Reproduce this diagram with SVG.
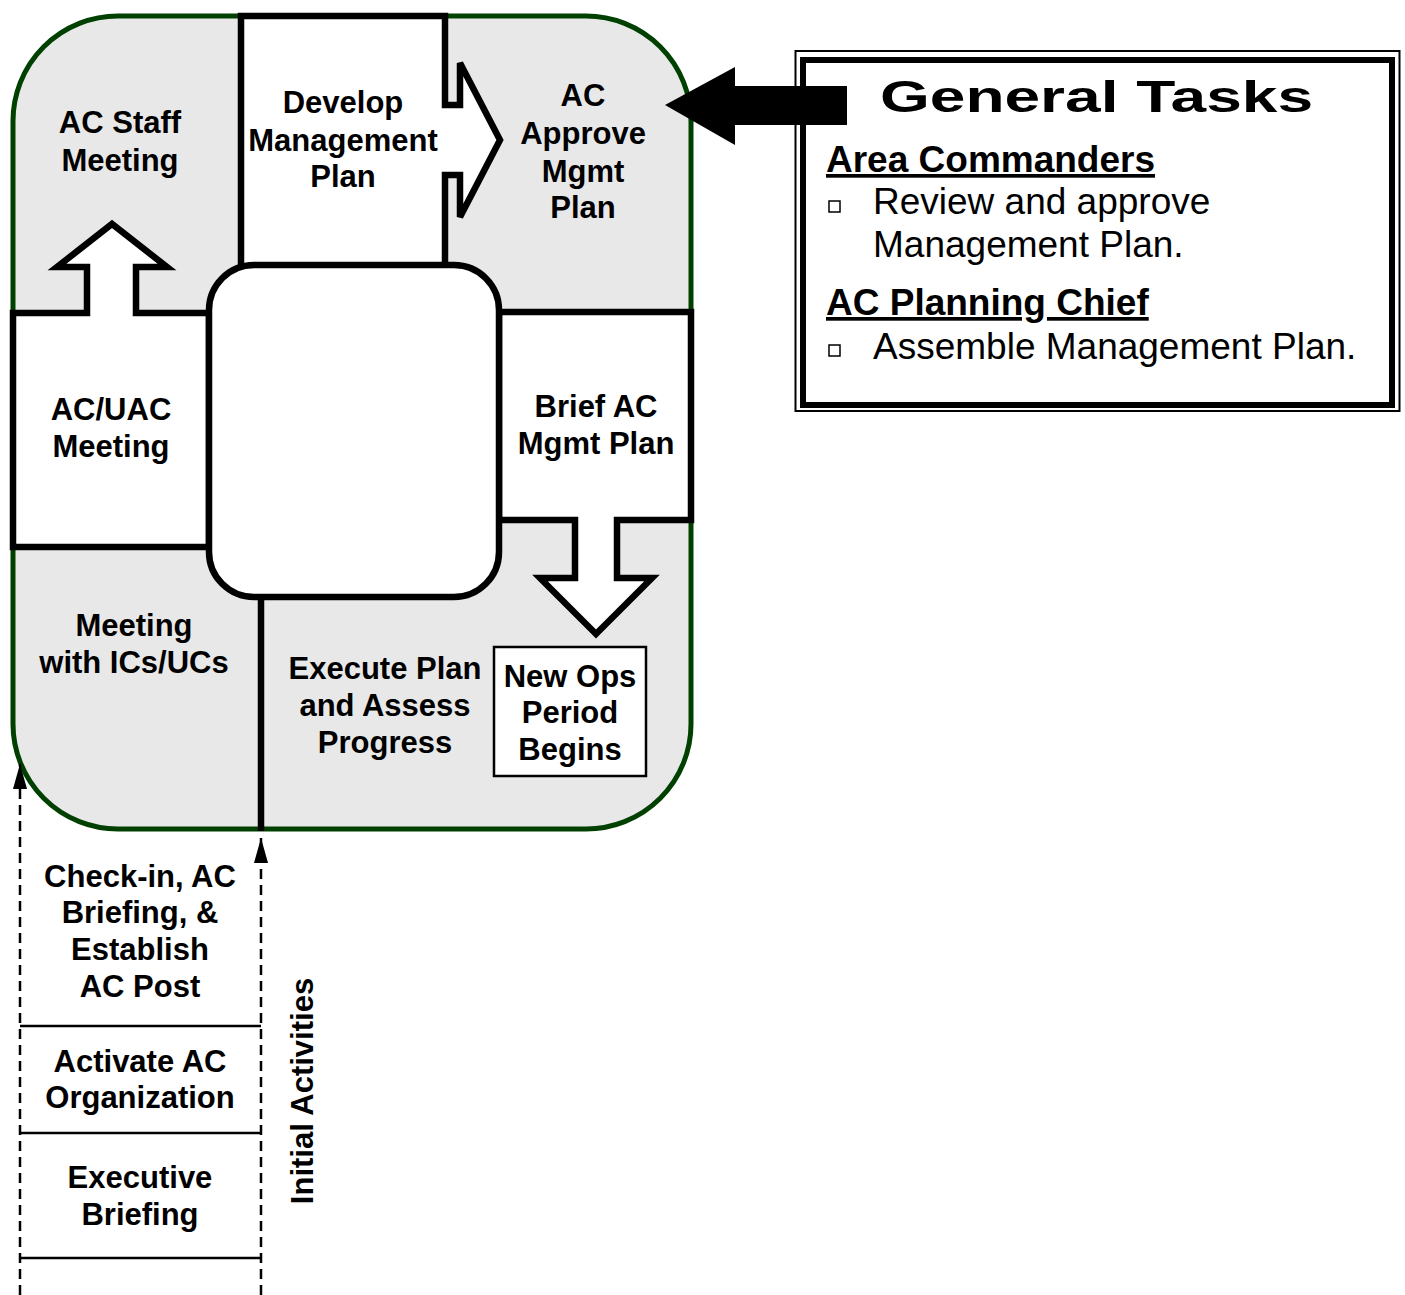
<svg xmlns="http://www.w3.org/2000/svg" width="1405" height="1295" viewBox="0 0 1405 1295">
<style>
.lbl{font-family:"Liberation Sans",Arial,sans-serif;font-weight:bold;font-size:31px;fill:#000;text-anchor:middle}
.box{fill:#fff;stroke:#000;stroke-width:6.5;stroke-linejoin:miter}
.hd{font-family:"Liberation Sans",Arial,sans-serif;font-weight:bold;font-size:37px;fill:#000;text-decoration:underline}
.it{font-family:"Liberation Sans",Arial,sans-serif;font-size:37px;fill:#000}
.dash{fill:none;stroke:#000;stroke-width:2.5;stroke-dasharray:10 6}
.sep{stroke:#000;stroke-width:2.5}
</style>
<defs>
<marker id="ah" markerUnits="userSpaceOnUse" markerWidth="25" markerHeight="14" refX="25" refY="7" orient="auto" viewBox="0 0 25 14">
<path d="M0,0 L25,7 L0,14 Z" fill="#000"/>
</marker>
</defs>
<rect width="1405" height="1295" fill="#fff"/>

<g id="cycle-frame">
<rect x="13" y="16" width="678" height="813" rx="105" ry="105" fill="#e8e8e8" stroke="#004000" stroke-width="5"/>
</g>

<g id="ac-staff-meeting">
<text class="lbl" x="120" y="133">AC Staff</text>
<text class="lbl" x="120" y="171">Meeting</text>
</g>

<g id="develop-management-plan">
<path class="box" d="M241,16 H445 V105 H460 V63 L500,140 L460,217 V175 H445 V268 H241 Z"/>
<text class="lbl" x="343" y="113">Develop</text>
<text class="lbl" x="343" y="151">Management</text>
<text class="lbl" x="343" y="187">Plan</text>
</g>

<g id="ac-approve-mgmt-plan">
<text class="lbl" x="583" y="106">AC</text>
<text class="lbl" x="583" y="144">Approve</text>
<text class="lbl" x="583" y="182">Mgmt</text>
<text class="lbl" x="583" y="218">Plan</text>
</g>

<g id="ac-uac-meeting">
<path class="box" d="M13,313 H87 V267 H57 L112,224 L167,267 H136 V313 H209 V547 H13 Z"/>
<text class="lbl" x="111" y="420">AC/UAC</text>
<text class="lbl" x="111" y="457">Meeting</text>
</g>

<g id="brief-ac-mgmt-plan">
<path class="box" d="M499,312 H691 V520 H617 V578 H652 L596,634 L540,578 H575 V520 H499 Z"/>
<text class="lbl" x="596" y="417">Brief AC</text>
<text class="lbl" x="596" y="454">Mgmt Plan</text>
</g>

<g id="center">
<rect class="box" x="209" y="265" width="290" height="332" rx="45" ry="45"/>
</g>

<g id="divider">
<line x1="261" y1="597" x2="261" y2="831" stroke="#000" stroke-width="6.5"/>
</g>

<g id="meeting-with-ics">
<text class="lbl" x="134" y="636">Meeting</text>
<text class="lbl" x="134" y="673">with ICs/UCs</text>
</g>

<g id="execute-plan">
<text class="lbl" x="385" y="679">Execute Plan</text>
<text class="lbl" x="385" y="716">and Assess</text>
<text class="lbl" x="385" y="753">Progress</text>
</g>

<g id="new-ops-period">
<rect x="494" y="647" width="152" height="129" fill="#fff" stroke="#000" stroke-width="2.5"/>
<text class="lbl" x="570" y="687">New Ops</text>
<text class="lbl" x="570" y="723">Period</text>
<text class="lbl" x="570" y="760">Begins</text>
</g>

<g id="connectors">
<line class="dash" x1="20" y1="1295" x2="20" y2="764" marker-end="url(#ah)"/>
<line class="dash" x1="261" y1="1295" x2="261" y2="838" marker-end="url(#ah)"/>
<polygon points="665,105 735,67 735,86 847,86 847,125 735,125 735,145" fill="#000"/>
</g>

<g id="initial-activities">
<line class="sep" x1="20" y1="1026" x2="261" y2="1026"/>
<line class="sep" x1="20" y1="1133" x2="261" y2="1133"/>
<line class="sep" x1="20" y1="1258" x2="261" y2="1258"/>
<text class="lbl" x="140" y="887">Check-in, AC</text>
<text class="lbl" x="140" y="923">Briefing, &amp;</text>
<text class="lbl" x="140" y="960">Establish</text>
<text class="lbl" x="140" y="997">AC Post</text>
<text class="lbl" x="140" y="1072">Activate AC</text>
<text class="lbl" x="140" y="1108">Organization</text>
<text class="lbl" x="140" y="1188">Executive</text>
<text class="lbl" x="140" y="1225">Briefing</text>
<text class="lbl" transform="translate(313,1091) rotate(-90)">Initial Activities</text>
</g>

<g id="general-tasks">
<rect x="795.5" y="51" width="604" height="360" fill="#fff" stroke="#000" stroke-width="2"/>
<rect x="803" y="60" width="589" height="345" fill="none" stroke="#000" stroke-width="6"/>
<polygon points="735,86 847,86 847,125 735,125" fill="#000"/>
<text x="880" y="112" font-family="Liberation Sans, Arial, sans-serif" font-weight="bold" font-size="44" textLength="433" lengthAdjust="spacingAndGlyphs">General Tasks</text>
<text class="hd" x="826" y="172">Area Commanders</text>
<rect x="829" y="201" width="11" height="11" fill="none" stroke="#000" stroke-width="1.5"/>
<text class="it" x="873" y="214">Review and approve</text>
<text class="it" x="873" y="257">Management Plan.</text>
<text class="hd" x="826" y="315">AC Planning Chief</text>
<rect x="829" y="345" width="11" height="11" fill="none" stroke="#000" stroke-width="1.5"/>
<text class="it" x="873" y="359">Assemble Management Plan.</text>
</g>
</svg>
